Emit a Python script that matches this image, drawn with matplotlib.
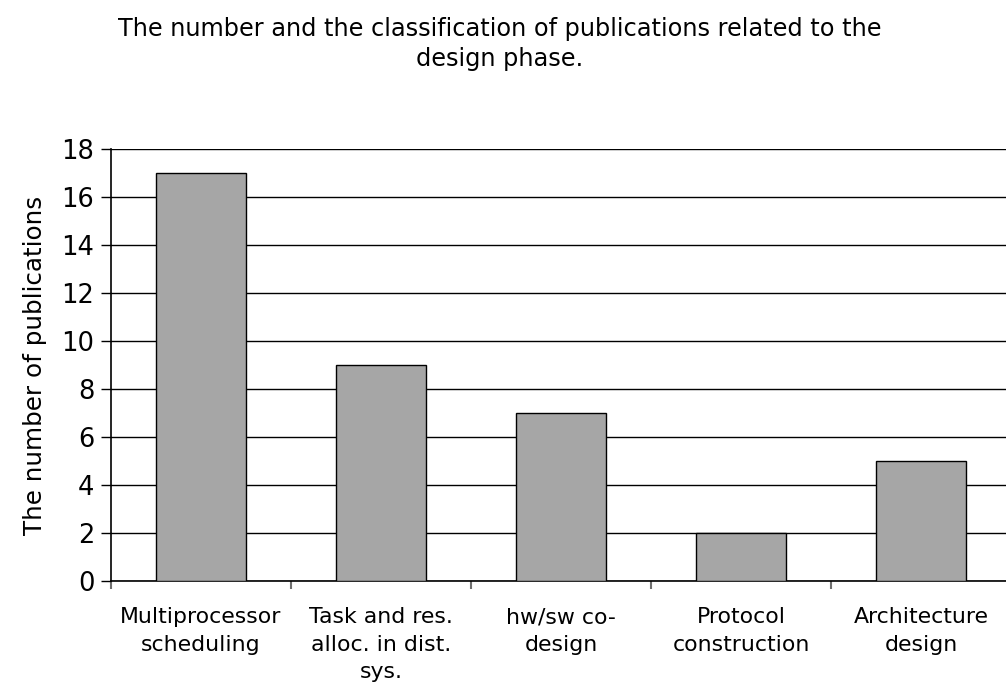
import matplotlib
matplotlib.use("Agg")
import matplotlib.pyplot as plt

categories = ["Multiprocessor\nscheduling", "Task and res.\nalloc. in dist.\nsys.",
              "hw/sw co-\ndesign", "Protocol\nconstruction", "Architecture\ndesign"]
values = [17, 9, 7, 2, 5]
yticks = [0, 2, 4, 6, 8, 10, 12, 14, 16, 18]

plt.rcParams['font.family'] = ['DejaVu Sans']
fig = plt.figure(figsize=(10.06, 6.93), dpi=100)
ax = fig.add_axes([111/1006, 112/693, 900/1006, 432/693])

x = list(range(len(values)))
ax.bar(x, values, width=0.5, color="#a6a6a6", edgecolor="black", linewidth=1.0, zorder=3)
ax.set_xlim(-0.5, len(values) - 0.5)
ax.set_ylim(0, 18)
ax.set_yticks(yticks)
ax.set_yticklabels([str(t) for t in yticks], fontsize=18.5)
ax.yaxis.grid(True, color="black", linewidth=1.0, zorder=0)
ax.set_axisbelow(True)
ax.tick_params(axis='y', direction='out', length=7, width=1.0, pad=5)

ax.set_xticks([i - 0.5 for i in range(len(values) + 1)])
ax.set_xticklabels([])
ax.tick_params(axis='x', direction='out', length=6, width=1.5, color="#707070")
ax.set_xticks(x, minor=True)
ax.set_xticklabels(categories, minor=True, fontsize=15.8, linespacing=1.45, va='top')
ax.tick_params(axis='x', which='minor', length=0, pad=19)

for s in ["top", "right"]:
    ax.spines[s].set_visible(False)
ax.spines["left"].set_linewidth(1.2)
ax.spines["bottom"].set_linewidth(1.2)

ax.set_ylabel("The number of publications", fontsize=17.7, labelpad=10)
fig.text(0.497, 0.975, "The number and the classification of publications related to the\ndesign phase.",
         ha='center', va='top', fontsize=17.3, linespacing=1.3)

fig.savefig("out.png", dpi=100)
